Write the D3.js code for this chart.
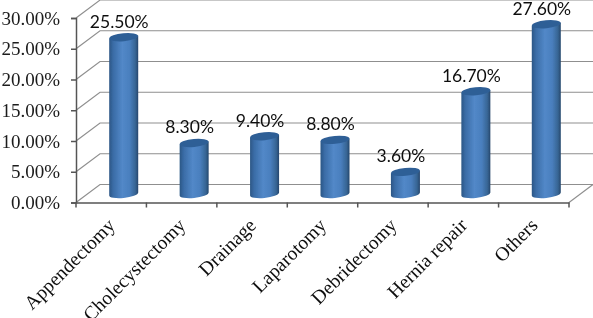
<!DOCTYPE html>
<html><head><meta charset="utf-8">
<script src="https://cdnjs.cloudflare.com/ajax/libs/d3/7.8.5/d3.min.js"></script>
<style>html,body{margin:0;padding:0;background:#fff;overflow:hidden}svg{display:block}</style>
</head><body><div id="c"></div>
<script>
const categories = ["Appendectomy","Cholecystectomy","Drainage","Laparotomy","Debridectomy","Hernia repair","Others"];
const values = [25.5,8.3,9.4,8.8,3.6,16.7,27.6];
const valueLabels = ["25.50%","8.30%","9.40%","8.80%","3.60%","16.70%","27.60%"];
const yTicks = [0,5,10,15,20,25,30];

const W=593,H=318;
const svg=d3.select("#c").append("svg").attr("width",W).attr("height",H);
const x=d3.scaleBand().domain(categories).range([76,569]).padding(0);
const y=d3.scaleLinear().domain([0,30]).range([202.5,18]);
const depthX=24, depthY=18;

const defs=svg.append("defs");
const g=defs.append("linearGradient").attr("id","cyl").attr("x1","0").attr("x2","1").attr("y1","0").attr("y2","0");
[[0,"#2b5685"],[0.14,"#3a6ca6"],[0.45,"#5288c8"],[0.7,"#4a7fbe"],[0.9,"#376594"],[1,"#25466c"]]
 .forEach(d=>g.append("stop").attr("offset",d[0]).attr("stop-color",d[1]));
defs.append("filter").attr("id","soft").attr("x","-5%").attr("y","-5%").attr("width","110%").attr("height","110%")
  .append("feGaussianBlur").attr("stdDeviation",0.35);

const root=svg.append("g").attr("filter","url(#soft)");

// back wall grid and side wall
const gridPath=d=>`M${x.range()[0]},${y(d)}l${depthX},${-depthY}H${W}`;
root.append("g").selectAll("path").data(yTicks).join("path")
  .attr("d",gridPath).attr("fill","none").attr("stroke","#8f8f8f").attr("stroke-width",1.2);
root.append("path").attr("d",`M${x.range()[1]},${y(0)}l${depthX},${-depthY}`)
  .attr("fill","none").attr("stroke","#8f8f8f").attr("stroke-width",1.2);

// axes
const yAxis=d3.axisLeft(y).tickValues(yTicks).tickFormat(d=>d3.format(".2f")(d)+"%").tickSize(5).tickPadding(11);
const gy=root.append("g").attr("transform",`translate(${x.range()[0]},0)`).call(yAxis);
const xAxis=d3.axisBottom(x).tickSize(0).tickFormat("");
const gx=root.append("g").attr("transform",`translate(0,${y(0)})`).call(xAxis);
[gy,gx].forEach(a=>a.select(".domain").attr("stroke","#555").attr("stroke-width",1.5));
gy.selectAll("line").attr("stroke","#555").attr("stroke-width",1.5);
gy.selectAll("text").attr("font-family","'Liberation Serif',serif").attr("font-size",19).attr("fill","#1a1a1a");
root.append("g").selectAll("line").data(categories.concat(["end"])).join("line")
  .attr("x1",(d,i)=>i<categories.length?x(d):x.range()[1])
  .attr("x2",(d,i)=>i<categories.length?x(d):x.range()[1])
  .attr("y1",y(0)).attr("y2",y(0)+5).attr("stroke","#555").attr("stroke-width",1.5);

// cylinders
const rx=14.5, ry=4, tilt=1.4, offX=12.5, baseY=y(0)-8.5;
const cx=d=>x(d)+x.bandwidth()/2+offX;
const scale=y(0)-y(1);
const topY=v=>baseY-v*scale;
const bars=root.append("g").selectAll("g").data(categories).join("g");
bars.append("path").attr("fill","url(#cyl)").attr("d",(d,i)=>{
  const c=cx(d),t=topY(values[i]);
  return `M${c-rx},${t+tilt}L${c-rx},${baseY+tilt}A${rx},${ry} -6 0 0 ${c+rx},${baseY-tilt}L${c+rx},${t-tilt}Z`;
});
bars.append("ellipse").attr("rx",rx).attr("ry",ry).attr("fill","#2f5f96")
  .attr("transform",(d,i)=>`translate(${cx(d)},${topY(values[i])}) rotate(-5.5)`);

// value labels
root.append("g").selectAll("text").data(categories).join("text")
  .attr("x",d=>cx(d)-4.5).attr("y",(d,i)=>topY(values[i])-9.5)
  .attr("text-anchor","middle").attr("font-family","Lato,Carlito,sans-serif").attr("font-size",17.5).attr("fill","#111")
  .text((d,i)=>valueLabels[i]);

// category labels
root.append("g").selectAll("text").data(categories).join("text")
  .attr("text-anchor","end").attr("font-family","'Liberation Serif',serif").attr("font-size",19.5).attr("fill","#111")
  .attr("transform",d=>`translate(${x(d)+x.bandwidth()/2+5},${y(0)+24}) rotate(-45)`)
  .text(d=>d);
</script></body></html>
